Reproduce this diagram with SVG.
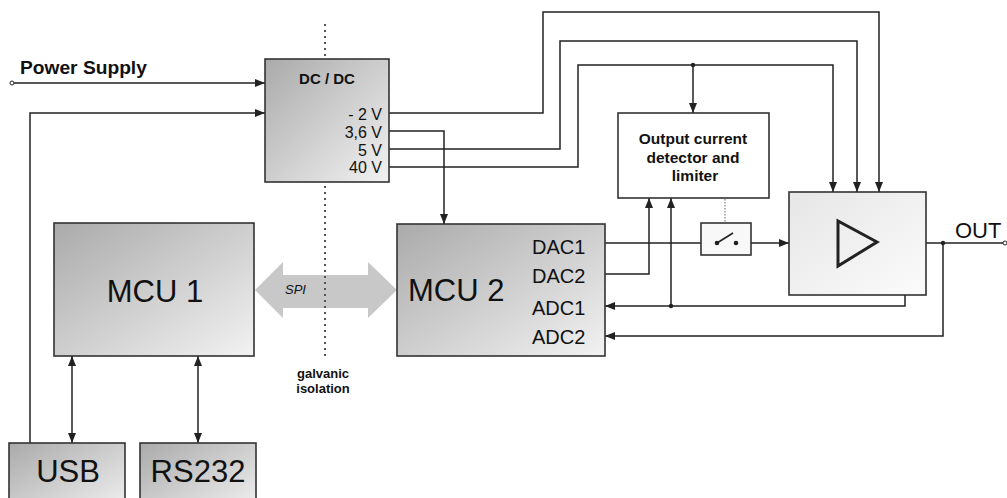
<svg xmlns="http://www.w3.org/2000/svg" width="1007" height="498" viewBox="0 0 1007 498">
<defs>
<linearGradient id="g" x1="0" y1="0" x2="1" y2="1">
<stop offset="0" stop-color="#aaaaaa"/>
<stop offset="1" stop-color="#f2f2f2"/>
</linearGradient>
<linearGradient id="gl" x1="0" y1="0" x2="1" y2="1">
<stop offset="0" stop-color="#e6e6e6"/>
<stop offset="1" stop-color="#fbfbfb"/>
</linearGradient>
<marker id="a" markerWidth="11" markerHeight="9" refX="10" refY="4" orient="auto-start-reverse" markerUnits="userSpaceOnUse">
<path d="M0,0 L10,4 L0,8 z" fill="#222"/>
</marker>
</defs>
<style>
.box{stroke:#333;stroke-width:1.6}
.ln{fill:none;stroke:#222;stroke-width:1.5}
.ar{marker-end:url(#a)}
.t{font-family:"Liberation Sans",Arial,sans-serif;fill:#111}
.b{font-weight:bold}
.big{font-size:31px}
.pin{font-size:20px}
.v{font-size:16px;text-anchor:end}
.dot{fill:#222}
</style>
<rect width="1007" height="498" fill="#ffffff"/>

<!-- SPI arrow -->
<g id="spi">
<polygon points="255,290 283,262 283,275 368,275 368,262 397,290 368,318 368,308 283,308 283,318" fill="#c8c8c8"/>
<text class="t" x="285" y="294" font-size="13" font-style="italic" fill="#444">SPI</text>
</g>

<!-- isolation line -->
<g id="isolation">
<line x1="325" y1="24" x2="325" y2="357" stroke="#555" stroke-width="2" stroke-dasharray="2,4"/>
<text class="t b" x="323" y="378" font-size="13" text-anchor="middle">galvanic</text>
<text class="t b" x="323" y="393" font-size="13" text-anchor="middle">isolation</text>
</g>

<g id="connectors">
<circle cx="12" cy="83" r="2" fill="#fff" stroke="#222" stroke-width="1"/>
<polyline class="ln ar" points="14,83 265,83"/>
<polyline class="ln ar" points="30,443 30,113 265,113"/>
<polyline class="ln" points="389,113 543,113 543,12 879,12 879,192" marker-end="url(#a)"/>
<polyline class="ln" points="389,149 560,149 560,41 857,41 857,192" marker-end="url(#a)"/>
<polyline class="ln" points="389,167 578,167 578,65 833,65 833,192" marker-end="url(#a)"/>
<polyline class="ln ar" points="693,65 693,113"/>
<circle class="dot" cx="693" cy="65" r="2.2"/>
<polyline class="ln ar" points="389,131 444,131 444,224"/>
<polyline class="ln" points="72,356 72,443" marker-start="url(#a)" marker-end="url(#a)"/>
<polyline class="ln" points="198,356 198,443" marker-start="url(#a)" marker-end="url(#a)"/>
<polyline class="ln" points="605,243 717,243"/>
<polyline class="ln ar" points="736,243 789,243"/>
<polyline class="ln ar" points="605,274 649,274 649,198"/>
<polyline class="ln ar" points="905,295 905,306 605,306"/>
<polyline class="ln ar" points="671,306 671,198"/>
<circle class="dot" cx="671" cy="306" r="2.2"/>
<polyline class="ln" points="926,243 1003,243"/>
<circle cx="1005" cy="243" r="2" fill="#fff" stroke="#222" stroke-width="1"/>
<polyline class="ln ar" points="943,243 943,336 605,336"/>
<circle class="dot" cx="943" cy="243" r="2.2"/>
<line x1="725" y1="199" x2="725" y2="228" stroke="#999" stroke-width="1.5" stroke-dasharray="1.5,1.5"/>
<path d="M720,227 L730,227 L725,236 z" fill="#222"/>
</g>

<g id="power-label">
<text class="t b" x="20" y="74" font-size="19.2">Power Supply</text>
</g>

<g id="dcdc">
<rect class="box" x="265" y="59" width="124" height="123" fill="url(#g)"/>
<text class="t b" x="327" y="84" font-size="15" text-anchor="middle">DC / DC</text>
<text class="t v" x="382" y="120">- 2 V</text>
<text class="t v" x="382" y="138">3,6 V</text>
<text class="t v" x="382" y="156">5 V</text>
<text class="t v" x="382" y="173">40 V</text>
</g>

<g id="mcu1">
<rect class="box" x="54" y="223" width="200" height="133" fill="url(#g)"/>
<text class="t big" x="155" y="302" text-anchor="middle">MCU 1</text>
</g>

<g id="mcu2">
<rect class="box" x="397" y="224" width="208" height="132" fill="url(#g)"/>
<text class="t big" x="408" y="301">MCU 2</text>
<text class="t pin" x="532" y="254">DAC1</text>
<text class="t pin" x="532" y="283">DAC2</text>
<text class="t pin" x="532" y="315">ADC1</text>
<text class="t pin" x="532" y="344">ADC2</text>
</g>

<g id="usb">
<rect class="box" x="9" y="443" width="116" height="70" fill="url(#g)"/>
<text class="t big" x="68" y="482" text-anchor="middle">USB</text>
</g>

<g id="rs232">
<rect class="box" x="140" y="443" width="116" height="70" fill="url(#g)"/>
<text class="t big" x="198" y="482" text-anchor="middle">RS232</text>
</g>

<g id="detector">
<rect class="box" x="618" y="113" width="151" height="85" fill="#ffffff"/>
<text class="t b" x="693" y="144" font-size="15.5" text-anchor="middle">Output current</text>
<text class="t b" x="693" y="163" font-size="15.5" text-anchor="middle">detector and</text>
<text class="t b" x="695" y="181" font-size="15.5" text-anchor="middle">limiter</text>
</g>

<g id="switch">
<rect class="box" x="701" y="223" width="50" height="32" fill="#f8f8f8"/>
<line x1="717" y1="243" x2="733" y2="233" stroke="#222" stroke-width="1.5"/>
<circle class="dot" cx="717" cy="243" r="2.3"/>
<circle class="dot" cx="736" cy="243" r="2.3"/>
</g>

<g id="amplifier">
<rect class="box" x="789" y="192" width="137" height="103" fill="url(#gl)"/>
<polygon points="838,221 838,266 877,242" fill="none" stroke="#222" stroke-width="3" stroke-linejoin="miter"/>
</g>

<g id="out">
<text class="t" x="955" y="238" font-size="22">OUT</text>
</g>
</svg>
